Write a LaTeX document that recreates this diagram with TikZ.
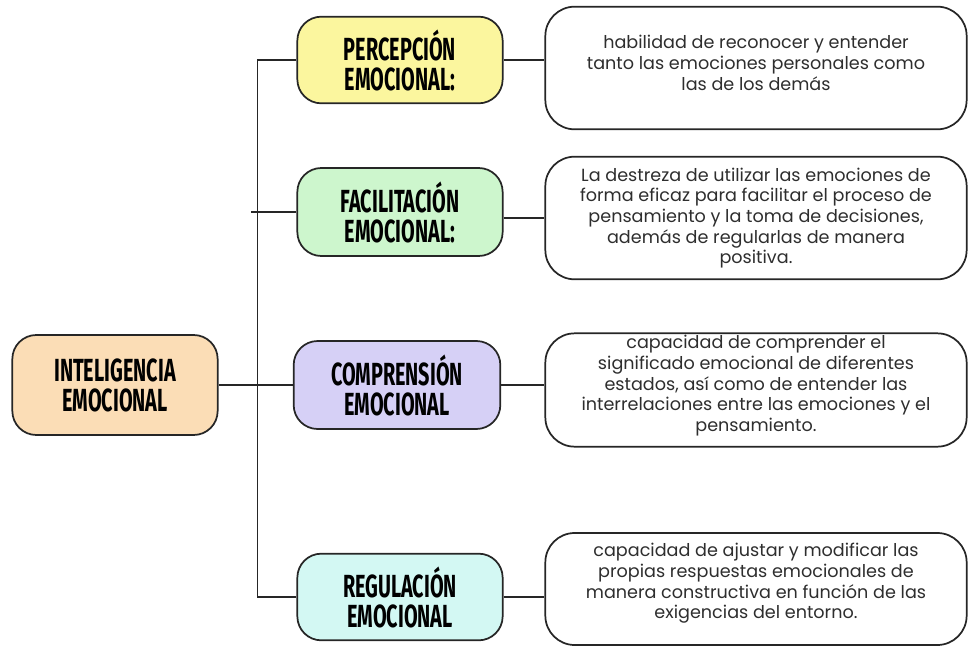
\documentclass[tikz,border=0pt]{standalone}
\usepackage{fontspec}
\setmainfont{Poppins}
\newfontfamily\headfont[FakeStretch=0.62]{Fira Sans}
\usepackage{tikz}
\usetikzlibrary{positioning}
\usetikzlibrary{calc}

\definecolor{rootcol}{HTML}{FBDDB6}
\definecolor{percol}{HTML}{FBF69E}
\definecolor{faccol}{HTML}{CDF6CD}
\definecolor{comcol}{HTML}{D6D0F6}
\definecolor{regcol}{HTML}{D3F8F3}
\definecolor{txtcol}{HTML}{2E2E2E}

\tikzset{
    head/.style={draw=black!85, line width=1.3pt, rounded corners=18pt, align=center,
        font=\headfont\bfseries\fontsize{24}{22.5}\selectfont, inner sep=0pt},
    desc/.style={draw=black!85, line width=1.3pt, rounded corners=22pt, fill=white, align=center,
        text=txtcol, font=\fontsize{13.2}{15.5}\selectfont, inner sep=0pt, minimum width=316pt},
    desctext/.style={align=center, text=txtcol, font=\fontsize{13.2}{15.5}\selectfont, inner sep=0pt},
    link/.style={line width=1.2pt, black!85}
}

\begin{document}
\begin{tikzpicture}[x=0.75pt,y=-0.75pt]
    \useasboundingbox (0,0) rectangle (968,646);

    % Boxes
    \node[head, fill=rootcol, minimum width=154pt, minimum height=75pt] (root) at (115,385) {INTELIGENCIA\\EMOCIONAL};
    \node[head, fill=percol, minimum width=154pt, minimum height=65pt] (per) at (400,60) {PERCEPCIÓN\\EMOCIONAL:};
    \node[head, fill=faccol, minimum width=154pt, minimum height=66pt] (fac) at (400,212) {FACILITACIÓN\\EMOCIONAL:};
    \node[head, fill=comcol, minimum width=155pt, minimum height=66pt] (com) at (397,385) {COMPRENSIÓN\\EMOCIONAL};
    \node[head, fill=regcol, minimum width=154pt, minimum height=65pt] (reg) at (400,597) {REGULACIÓN\\EMOCIONAL};

    \node[desc, minimum height=92pt] (d1) at (756,68) {};
    \node[desctext] at ([yshift=3.8pt]d1.center) (t1)
        {habilidad de reconocer y entender\\tanto las emociones personales como\\las de los demás};
    \node[desc, minimum height=92pt] (d2) at (756,218) {La destreza de utilizar las emociones de\\forma eficaz para facilitar el proceso de\\pensamiento y la toma de decisiones,\\además de regularlas de manera\\positiva.};
    \node[desc, minimum height=85pt] (d3) at (756,390) {};
    \node[desctext] at ([yshift=3.2pt]d3.center) (t3)
        {capacidad de comprender el\\significado emocional de diferentes\\estados, así como de entender las\\interrelaciones entre las emociones y el\\pensamiento.};
    \node[desc, minimum height=84pt] (d4) at (756,589) {};
    \node[desctext] at ([yshift=4.2pt]d4.center) (t4)
        {capacidad de ajustar y modificar las\\propias respuestas emocionales de\\manera constructiva en función de las\\exigencias del entorno.};

    % Connectors
    \draw[link] (per.west) -- ++(-39,0) |- (reg.west);
    \draw[link] (fac.west) -- ++(-45,0);
    \draw[link] (root.east) -- (com.west);
    \draw[link] (per.east) -- (per.east -| d1.west);
    \draw[link] ([yshift=-4.5pt]fac.east) -- ([yshift=-4.5pt]fac.east -| d2.west);
    \draw[link] (com.east) -- (com.east -| d3.west);
    \draw[link] (reg.east) -- (reg.east -| d4.west);
\end{tikzpicture}
\end{document}
